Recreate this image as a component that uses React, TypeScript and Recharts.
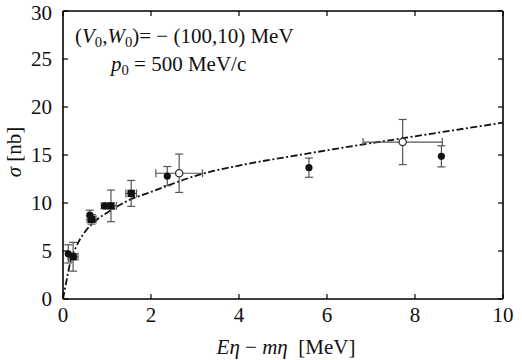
import React from 'react';
import { ComposedChart, Line, Scatter, XAxis, YAxis, ErrorBar } from 'recharts';

const xTicks = [0, 2, 4, 6, 8, 10];
const yTicks = [0, 5, 10, 15, 20, 25, 30];

// dash-dot model curve
const curveX = [0, 0.075, 0.17, 0.3, 0.5, 0.72, 1.1, 1.5, 2, 3.1, 4, 5.4, 6.75, 8, 10];
const curveY = [0, 1.8, 3.9, 5.45, 7.0, 8.05, 9.27, 10.3, 11.15, 12.95, 13.9, 15.03, 16.05, 16.95, 18.37];

// filled circles (y errors only)
const solidX = [0.12, 0.61, 0.94, 2.37, 5.59, 8.6];
const solidY = [4.7, 8.75, 9.7, 12.8, 13.68, 14.86];
const solidErrY = [0.95, 0.5, 0.3, 1.0, 1.0, 1.1];

// filled squares
const squareX = [0.23, 0.65, 1.09, 1.55];
const squareY = [4.4, 8.3, 9.7, 11.0];
const squareErrY = [1.5, 0.5, 1.65, 1.35];
const squareErrX = [0.11, 0.1, 0.12, 0.12];

// open circles
const openX = [2.64, 7.72];
const openY = [13.1, 16.35];
const openErrY = [2.0, 2.35];
const openErrX = [0.53, 0.9];

const curve = curveX.map((x, i) => ({ x, y: curveY[i] }));
const solid = solidX.map((x, i) => ({ x, y: solidY[i], ey: solidErrY[i] }));
const squares = squareX.map((x, i) => ({ x, y: squareY[i], ey: squareErrY[i], ex: squareErrX[i] }));
const open = openX.map((x, i) => ({ x, y: openY[i], ey: openErrY[i], ex: openErrX[i] }));

const FONT = 'Liberation Serif, Times New Roman, serif';
const INK = '#111';
const BAR = '#555';

const Dot = (props: any) => <circle cx={props.cx} cy={props.cy} r={3.6} fill={INK} />;
const Square = (props: any) => <rect x={props.cx - 3.7} y={props.cy - 3.7} width={7.4} height={7.4} fill={INK} />;
const OpenDot = (props: any) => (
  <circle cx={props.cx} cy={props.cy} r={3.6} fill="#fff" stroke="#333" strokeWidth={1.3} />
);
const NoTick = () => <g />;

const tickStyle = { fontSize: 21, fill: INK, fontFamily: FONT };
const axisLine = { stroke: '#000', strokeWidth: 1.6 };
const tickLine = { stroke: '#000', strokeWidth: 1.2 };

export default function App() {
  return (
    <div style={{ position: 'absolute', left: 0, top: 0, width: 522, height: 360, background: '#fff', fontFamily: FONT }}>
      <ComposedChart width={522} height={360} margin={{ top: 10, right: 18, bottom: 0, left: 0 }} style={{ fontFamily: FONT }}>
        <XAxis
          dataKey="x"
          type="number"
          domain={[0, 10]}
          ticks={xTicks}
          allowDataOverflow
          height={61}
          tickSize={-5}
          tickMargin={13}
          tick={tickStyle}
          axisLine={axisLine}
          tickLine={tickLine}
          label={{
            content: () => (
              <text x={286} y={354} textAnchor="middle" fontSize={21} fill={INK} fontFamily={FONT}>
                <tspan fontStyle="italic">Eη</tspan>
                <tspan> − </tspan>
                <tspan fontStyle="italic">mη</tspan>
                <tspan>{'\u00a0\u00a0[MeV]'}</tspan>
              </text>
            ),
          }}
        />
        <XAxis
          xAxisId="top"
          orientation="top"
          dataKey="x"
          type="number"
          domain={[0, 10]}
          ticks={xTicks}
          allowDataOverflow
          height={1}
          tickSize={-5}
          tick={NoTick}
          axisLine={axisLine}
          tickLine={tickLine}
        />
        <YAxis
          type="number"
          domain={[0, 30]}
          ticks={yTicks}
          allowDataOverflow
          width={63}
          tickSize={-5}
          tickMargin={16}
          tick={tickStyle}
          axisLine={axisLine}
          tickLine={tickLine}
          label={{
            content: () => (
              <text x={21} y={152} transform="rotate(-90 21 152)" textAnchor="middle" fontSize={21} fill={INK} fontFamily={FONT}>
                <tspan fontStyle="italic">σ</tspan>
                <tspan> [nb]</tspan>
              </text>
            ),
          }}
        />
        <YAxis
          yAxisId="right"
          orientation="right"
          type="number"
          domain={[0, 30]}
          ticks={yTicks}
          allowDataOverflow
          width={1}
          tickSize={-5}
          tick={NoTick}
          axisLine={axisLine}
          tickLine={tickLine}
        />
        {/* invisible series so the mirrored frame axes get drawn */}
        <Scatter data={solid} dataKey="y" xAxisId="top" yAxisId="right" shape={NoTick} isAnimationActive={false} />
        <Line
          data={curve}
          dataKey="y"
          type="monotone"
          dot={false}
          activeDot={false}
          stroke={INK}
          strokeWidth={1.8}
          strokeDasharray="7 2.5 2 2.5"
          isAnimationActive={false}
        />
        <Scatter data={solid} dataKey="y" shape={Dot} isAnimationActive={false}>
          <ErrorBar dataKey="ey" direction="y" width={4} stroke={BAR} strokeWidth={1.2} />
        </Scatter>
        <Scatter data={squares} dataKey="y" shape={Square} isAnimationActive={false}>
          <ErrorBar dataKey="ey" direction="y" width={4} stroke={BAR} strokeWidth={1.2} />
          <ErrorBar dataKey="ex" direction="x" width={4} stroke={BAR} strokeWidth={1.2} />
        </Scatter>
        <Scatter data={open} dataKey="y" shape={OpenDot} isAnimationActive={false}>
          <ErrorBar dataKey="ey" direction="y" width={4} stroke={BAR} strokeWidth={1.2} />
          <ErrorBar dataKey="ex" direction="x" width={4} stroke={BAR} strokeWidth={1.2} />
        </Scatter>
      </ComposedChart>
      <div style={{ position: 'absolute', left: 75, top: 25, fontSize: 21, lineHeight: '23px', color: INK, whiteSpace: 'nowrap' }}>
        (<i>V</i>
        <sub style={{ fontSize: '0.7em', verticalAlign: '-0.25em', lineHeight: 0 }}>0</sub>,<i>W</i>
        <sub style={{ fontSize: '0.7em', verticalAlign: '-0.25em', lineHeight: 0 }}>0</sub>)= − (100,10) MeV
      </div>
      <div style={{ position: 'absolute', left: 111, top: 53, fontSize: 21, lineHeight: '23px', color: INK, whiteSpace: 'nowrap' }}>
        <i>p</i>
        <sub style={{ fontSize: '0.7em', verticalAlign: '-0.25em', lineHeight: 0 }}>0</sub> = 500 MeV/c
      </div>
    </div>
  );
}
